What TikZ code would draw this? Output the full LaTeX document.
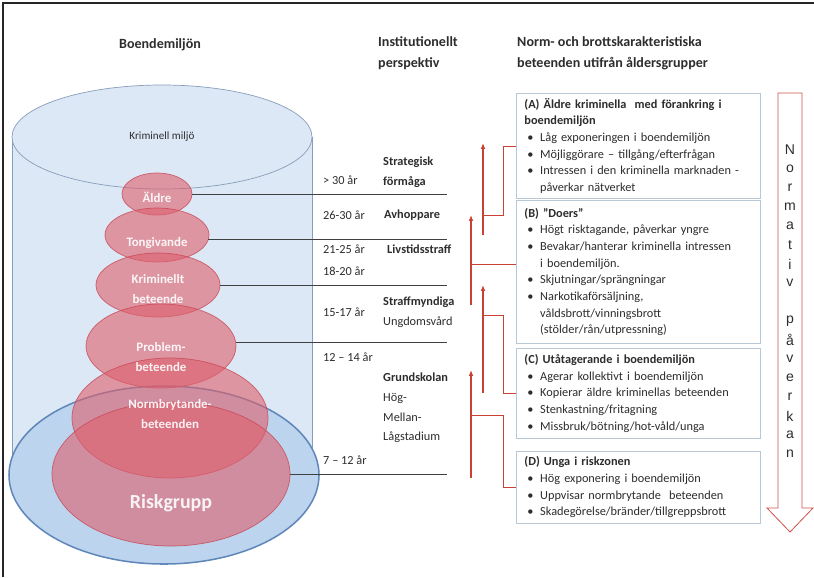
\documentclass[tikz,border=0pt]{standalone}
\usepackage{fontspec}
\setmainfont{Carlito}
\newfontfamily\arialfont{Liberation Sans}
\usetikzlibrary{calc}
\usetikzlibrary{positioning}
\usetikzlibrary{shapes.geometric}
\usetikzlibrary{arrows.meta}
\usetikzlibrary{shadows}

\definecolor{cylblue}{RGB}{220,232,245}
\definecolor{cyledge}{RGB}{135,158,188}
\definecolor{riskblue}{RGB}{188,212,238}
\definecolor{riskedge}{RGB}{95,135,185}
\definecolor{rosered}{RGB}{222,95,108}
\definecolor{roseedge}{RGB}{200,70,85}
\definecolor{arrowred}{RGB}{200,65,55}
\definecolor{boxedge}{RGB}{185,200,215}
\definecolor{txtgray}{RGB}{45,45,45}

\newcommand{\itm}[1]{\makebox[13.5pt][l]{\hspace{2.5pt}\textbullet}#1}
\newcommand{\cnt}[1]{\hspace*{13.5pt}#1}

\begin{document}
\begin{tikzpicture}[x=0.03cm, y=-0.03cm,
    title/.style={font=\fontsize{12}{18.5}\selectfont\bfseries, text=txtgray, inner sep=0pt, align=left},
    age/.style={font=\fontsize{10.5}{14.2}\selectfont, text=txtgray, anchor=west, inner sep=0pt, align=left},
    oval/.style={ellipse, inner sep=0pt, outer sep=0pt, fill=rosered, fill opacity=0.6, draw=roseedge, draw opacity=0.8, line width=0.6pt},
    ovaltext/.style={text=white, text opacity=0.9, inner sep=0pt, font=\fontsize{11}{17}\selectfont\bfseries, align=center},
    level/.style={draw=black!75, line width=0.7pt},
    upline/.style={draw=arrowred, line width=1.2pt, -{Latex[length=5pt,width=4pt]}},
    brk/.style={draw=arrowred, line width=0.7pt},
    infobox/.style={draw=boxedge, fill=white, line width=0.7pt, anchor=north west, minimum width=7.32cm, text width=6.84cm, inner xsep=0.24cm, align=left, font=\fontsize{10.5}{14.2}\selectfont, text=txtgray, drop shadow={opacity=0.2, shadow xshift=0.7pt, shadow yshift=-0.7pt}},
    vletter/.style={font=\arialfont\fontsize{12}{12}\selectfont, text=txtgray, inner sep=0pt}]
    \useasboundingbox (0,0) rectangle (814,577);
    \draw[black!85, line width=1.5pt] (3,577) -- (3,3) -- (814,3);

    % titles
    \node[title] (t-boende) at (160,45) {Boendemiljön};
    \node[title, anchor=north west] (t-inst) at (378,36) {Institutionellt\\perspektiv};
    \node[title, anchor=north west] (t-norm) at (517,36) {Norm- och brottskarakteristiska\\beteenden utifrån åldersgrupper};

    % cylinder
    \fill[cylblue] (12,137) rectangle (312,470);
    \draw[cyledge, line width=0.6pt] (12,137) -- (12,470) (312,137) -- (312,470);
    \node[ellipse, inner sep=0pt, draw=cyledge, line width=0.6pt, fill=cylblue, minimum width=9cm, minimum height=3.12cm, font=\fontsize{9.5}{12}\selectfont, text=txtgray] (rim) at (162,137) {Kriminell miljö};
    \node[ellipse, inner sep=0pt, outer sep=0pt, draw=riskedge, line width=1.3pt, fill=riskblue, minimum width=9.3cm, minimum height=5.34cm] (riskouter) at (164,475) {};

    \node[oval, minimum width=2.1cm, minimum height=1.26cm] (aldre) at (157,194) {};
    \node[oval, minimum width=3.12cm, minimum height=1.62cm] (tong) at (157,235) {};
    \node[oval, minimum width=3.72cm, minimum height=1.92cm] (krim) at (158,285) {};
    \node[oval, minimum width=4.5cm, minimum height=2.52cm] (probl) at (161,346) {};
    \node[oval, minimum width=5.88cm, minimum height=3.6cm] (normbr) at (170,418) {};
    \node[oval, minimum width=7.14cm, minimum height=4.32cm] (risk) at (171,474) {};
    \node[ovaltext] (aldre-t) at (157,197) {Äldre};
    \node[ovaltext] (tong-t) at (157,243) {Tongivande};
    \node[ovaltext] (krim-t) at (158,289) {Kriminellt\\beteende};
    \node[ovaltext] (probl-t) at (161,357) {Problem-\\beteende};
    \node[ovaltext] (normbr-t) at (170,414) {Normbrytande-\\beteenden};
    \node[ovaltext, font=\fontsize{17}{19}\selectfont\bfseries] (risk-t) at (171,503) {Riskgrupp};

    % level lines
    \coordinate (lend) at (447,0);
    \draw[level] (aldre.east) -- (aldre.east -| lend);
    \draw[level] (tong.-5) -- (tong.-5 -| lend);
    \draw[level] (krim.east) -- (krim.east -| lend);
    \draw[level] (probl.3) -- (probl.3 -| lend);
    \draw[level] (risk.east) -- (risk.east -| lend);

    % ages and institutions
    \node[age] (g1) at (323,180) {> 30 år};
    \node[age] (g2) at (323,215) {26-30 år};
    \node[age] (g3) at (323,249) {21-25 år};
    \node[age] (g4) at (323,271) {18-20 år};
    \node[age] (g5) at (323,312) {15-17 år};
    \node[age] (g6) at (323,357) {12 – 14 år};
    \node[age] (g7) at (323,460) {7 – 12 år};
    \node[age, font=\fontsize{10.5}{16.7}\selectfont\bfseries] (i1) at (383,172) {Strategisk\\förmåga};
    \node[age, font=\fontsize{10.5}{16.7}\selectfont\bfseries] (i2) at (384,215) {Avhoppare};
    \node[age, font=\fontsize{10.5}{16.7}\selectfont\bfseries] (i3) at (387,249) {Livstidsstraff};
    \node[age, font=\fontsize{10.5}{16.7}\selectfont] (i4) at (383,312) {\textbf{Straffmyndiga}\\Ungdomsvård};
    \node[age, font=\fontsize{10.5}{16.7}\selectfont] (i5) at (383,408) {\textbf{Grundskolan}\\Hög-\\Mellan-\\Lågstadium};

    % boxes
    \node[infobox, minimum height=3.15cm] (boxA) at (516,93) {\textbf{(A) Äldre kriminella\ \ med förankring i}\\\textbf{boendemiljön}\\\itm{Låg exponeringen i boendemiljön}\\\itm{Möjliggörare – tillgång/efterfrågan}\\\itm{Intressen i den kriminella marknaden -}\\\cnt{påverkar nätverket}};
    \node[infobox, minimum height=4.29cm] (boxB) at (516,200) {\textbf{(B) "Doers"}\\\itm{Högt risktagande, påverkar yngre}\\\itm{Bevakar/hanterar kriminella intressen}\\\cnt{i boendemiljön.}\\\itm{Skjutningar/sprängningar}\\\itm{Narkotikaförsäljning,}\\\cnt{våldsbrott/vinningsbrott}\\\cnt{(stölder/rån/utpressning)}};
    \node[infobox, minimum height=2.7cm] (boxC) at (516,348) {\textbf{(C) Utåtagerande i boendemiljön}\\\itm{Agerar kollektivt i boendemiljön}\\\itm{Kopierar äldre kriminellas beteenden}\\\itm{Stenkastning/fritagning}\\\itm{Missbruk/bötning/hot-våld/unga}};
    \node[infobox, minimum height=2.16cm] (boxD) at (516,451) {\textbf{(D) Unga i riskzonen}\\\itm{Hög exponering i boendemiljön}\\\itm{Uppvisar normbrytande\ \ beteenden}\\\itm{Skadegörelse/bränder/tillgreppsbrott}};

    % red arrows and brackets
    \coordinate (a1s) at (483,235); \coordinate (a1e) at (483,143);
    \coordinate (a2s) at (471,305); \coordinate (a2e) at (471,215);
    \coordinate (a3s) at (483,393); \coordinate (a3e) at (483,285);
    \coordinate (a4s) at (471,478); \coordinate (a4e) at (471,370);
    \draw[upline] (a1s) -- (a1e);
    \draw[upline] (a2s) -- (a2e);
    \draw[upline] (a3s) -- (a3e);
    \draw[upline] (a4s) -- (a4e);
    \coordinate (kA) at (483,215);
    \coordinate (kB) at (471,264);
    \coordinate (kC) at (483,315);
    \coordinate (kD) at (471,415);
    \draw[brk] (kA) -- ++(20,0) |- (boxA.west);
    \draw[brk] (kB) -- (kB -| boxB.west);
    \draw[brk] (kC) -- ++(20,0) |- (boxC.west);
    \draw[brk] (kD) -- ++(32,0) |- (boxD.west);

    % normativ paverkan
    \draw[arrowred!90, line width=0.7pt, fill=white] (778,93) -- (802,93) -- (802,508) -- (813,508) -- (790,532) -- (767,508) -- (778,508) -- cycle;
    \foreach \c [count=\i from 0] in {N,o,r,m,a,t,i,v,{},p,å,v,e,r,k,a,n}
    {
        \node[vletter] (ltr-\i) at (790,150+19*\i) {\c};
    }
\end{tikzpicture}
\end{document}
